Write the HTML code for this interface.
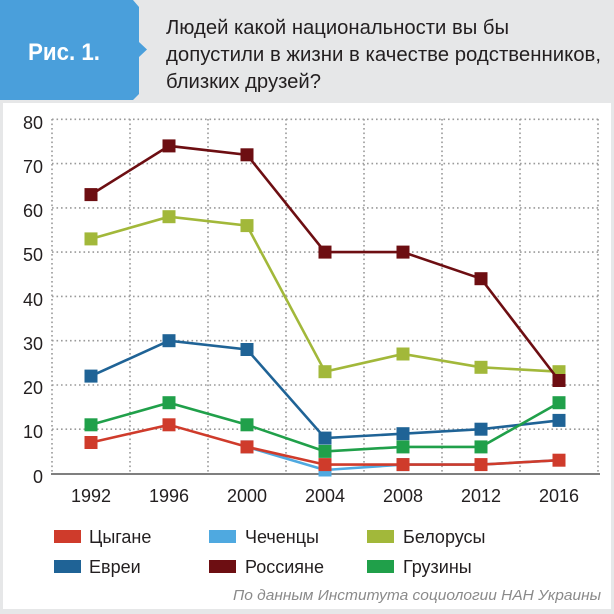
<!DOCTYPE html>
<html><head><meta charset="utf-8"><style>
html,body{margin:0;padding:0;background:#e6e7e8;}
svg{display:block;}
text{font-family:"Liberation Sans","DejaVu Sans",sans-serif;}
</style></head><body>
<svg width="614" height="614" viewBox="0 0 614 614" xmlns="http://www.w3.org/2000/svg">
<rect x="0" y="0" width="614" height="614" fill="#e6e7e8"/>
<rect x="3" y="103" width="608" height="506" fill="#ffffff"/>
<!-- blue label -->
<path d="M0,0 L133,0 L139,7 L139,42 L147,49.5 L139,57 L139,94 L133,100 L0,100 Z" fill="#4a9fdb"/>
<text x="28" y="60" font-size="24" font-weight="bold" fill="#ffffff" textLength="72" lengthAdjust="spacingAndGlyphs">Рис. 1.</text>
<!-- title -->
<g fill="#231f20" font-size="20">
<text x="166" y="34" textLength="343" lengthAdjust="spacingAndGlyphs">Людей какой национальности вы бы</text>
<text x="166" y="61" textLength="435" lengthAdjust="spacingAndGlyphs">допустили в жизни в качестве родственников,</text>
<text x="166" y="88" textLength="155" lengthAdjust="spacingAndGlyphs">близких друзей?</text>
</g>
<!-- grid -->
<g stroke="#9a9a9a" stroke-width="1.6" stroke-dasharray="1.6 2.9" fill="none">
<line x1="52" y1="119.3" x2="599" y2="119.3"/>
<line x1="52" y1="163.6" x2="599" y2="163.6"/>
<line x1="52" y1="207.9" x2="599" y2="207.9"/>
<line x1="52" y1="252.1" x2="599" y2="252.1"/>
<line x1="52" y1="296.4" x2="599" y2="296.4"/>
<line x1="52" y1="340.7" x2="599" y2="340.7"/>
<line x1="52" y1="385" x2="599" y2="385"/>
<line x1="52" y1="429.2" x2="599" y2="429.2"/>
<line x1="52" y1="119" x2="52" y2="473"/>
<line x1="130" y1="119" x2="130" y2="473"/>
<line x1="208" y1="119" x2="208" y2="473"/>
<line x1="286" y1="119" x2="286" y2="473"/>
<line x1="364" y1="119" x2="364" y2="473"/>
<line x1="442" y1="119" x2="442" y2="473"/>
<line x1="520" y1="119" x2="520" y2="473"/>
<line x1="598" y1="119" x2="598" y2="473"/>
</g>
<line x1="51" y1="474" x2="600" y2="474" stroke="#555555" stroke-width="1.6"/>
<!-- y labels -->
<g fill="#231f20" font-size="18" text-anchor="end">
<text x="43" y="129">80</text>
<text x="43" y="173">70</text>
<text x="43" y="217">60</text>
<text x="43" y="261">50</text>
<text x="43" y="306">40</text>
<text x="43" y="350">30</text>
<text x="43" y="394">20</text>
<text x="43" y="438">10</text>
<text x="43" y="483">0</text>
</g>
<!-- x labels -->
<g fill="#231f20" font-size="18" text-anchor="middle">
<text x="91" y="502">1992</text>
<text x="169" y="502">1996</text>
<text x="247" y="502">2000</text>
<text x="325" y="502">2004</text>
<text x="403" y="502">2008</text>
<text x="481" y="502">2012</text>
<text x="559" y="502">2016</text>
</g>
<!-- series -->
<g stroke-width="2.6" fill="none" stroke-linejoin="round">
<!-- Chechens light blue -->
<polyline stroke="#4fa9e0" points="247,446.9 325,470 403,464.6 481,464.6 559,460.2"/>
</g>
<g fill="#4fa9e0">
<rect x="240.5" y="440.4" width="13" height="13"/>
<rect x="318.5" y="463.5" width="13" height="13"/>
<rect x="396.5" y="458.1" width="13" height="13"/>
</g>
<!-- Gypsies red -->
<polyline stroke="#cf3b2b" stroke-width="2.6" fill="none" points="91,442.5 169,424.8 247,446.9 325,464.6 403,464.6 481,464.6 559,460.2"/>
<g fill="#cf3b2b">
<rect x="84.5" y="436" width="13" height="13"/>
<rect x="162.5" y="418.3" width="13" height="13"/>
<rect x="240.5" y="440.4" width="13" height="13"/>
<rect x="318.5" y="458.1" width="13" height="13"/>
<rect x="396.5" y="458.1" width="13" height="13"/>
<rect x="474.5" y="458.1" width="13" height="13"/>
<rect x="552.5" y="453.7" width="13" height="13"/>
</g>
<!-- Jews dark blue -->
<polyline stroke="#1f6396" stroke-width="2.6" fill="none" points="91,376.1 169,340.7 247,349.5 325,438.1 403,433.7 481,429.2 559,420.4"/>
<g fill="#1f6396">
<rect x="84.5" y="369.6" width="13" height="13"/>
<rect x="162.5" y="334.2" width="13" height="13"/>
<rect x="240.5" y="343" width="13" height="13"/>
<rect x="318.5" y="431.6" width="13" height="13"/>
<rect x="396.5" y="427.2" width="13" height="13"/>
<rect x="474.5" y="422.7" width="13" height="13"/>
<rect x="552.5" y="413.9" width="13" height="13"/>
</g>
<!-- Georgians green -->
<polyline stroke="#20a04a" stroke-width="2.6" fill="none" points="91,424.8 169,402.7 247,424.8 325,451.4 403,446.9 481,446.9 559,402.7"/>
<g fill="#20a04a">
<rect x="84.5" y="418.3" width="13" height="13"/>
<rect x="162.5" y="396.2" width="13" height="13"/>
<rect x="240.5" y="418.3" width="13" height="13"/>
<rect x="318.5" y="444.9" width="13" height="13"/>
<rect x="396.5" y="440.4" width="13" height="13"/>
<rect x="474.5" y="440.4" width="13" height="13"/>
<rect x="552.5" y="396.2" width="13" height="13"/>
</g>
<!-- Belarusians olive -->
<polyline stroke="#a2b83a" stroke-width="2.6" fill="none" points="91,238.9 169,216.7 247,225.6 325,371.7 403,354 481,367.3 559,371.7"/>
<g fill="#a2b83a">
<rect x="84.5" y="232.4" width="13" height="13"/>
<rect x="162.5" y="210.2" width="13" height="13"/>
<rect x="240.5" y="219.1" width="13" height="13"/>
<rect x="318.5" y="365.2" width="13" height="13"/>
<rect x="396.5" y="347.5" width="13" height="13"/>
<rect x="474.5" y="360.8" width="13" height="13"/>
<rect x="552.5" y="365.2" width="13" height="13"/>
</g>
<!-- Russians maroon -->
<polyline stroke="#6d0e12" stroke-width="2.6" fill="none" points="91,194.6 169,145.9 247,154.8 325,252.1 403,252.1 481,278.7 559,380.5"/>
<g fill="#6d0e12">
<rect x="84.5" y="188.1" width="13" height="13"/>
<rect x="162.5" y="139.4" width="13" height="13"/>
<rect x="240.5" y="148.3" width="13" height="13"/>
<rect x="318.5" y="245.6" width="13" height="13"/>
<rect x="396.5" y="245.6" width="13" height="13"/>
<rect x="474.5" y="272.2" width="13" height="13"/>
<rect x="552.5" y="374" width="13" height="13"/>
</g>
<!-- legend -->
<rect x="54" y="530" width="27" height="13" fill="#cf3b2b"/>
<rect x="209" y="530" width="27" height="13" fill="#4fa9e0"/>
<rect x="367" y="530" width="27" height="13" fill="#a2b83a"/>
<rect x="54" y="560" width="27" height="13" fill="#1f6396"/>
<rect x="209" y="560" width="27" height="13" fill="#6d0e12"/>
<rect x="367" y="560" width="27" height="13" fill="#20a04a"/>
<g fill="#231f20" font-size="18">
<text x="89" y="543">Цыгане</text>
<text x="245" y="543">Чеченцы</text>
<text x="403" y="543">Белорусы</text>
<text x="89" y="573">Евреи</text>
<text x="245" y="573">Россияне</text>
<text x="403" y="573">Грузины</text>
</g>
<text x="233" y="600" font-size="15" font-style="italic" fill="#8a8a8a" textLength="368" lengthAdjust="spacingAndGlyphs">По данным Института социологии НАН Украины</text>
</svg>
</body></html>
